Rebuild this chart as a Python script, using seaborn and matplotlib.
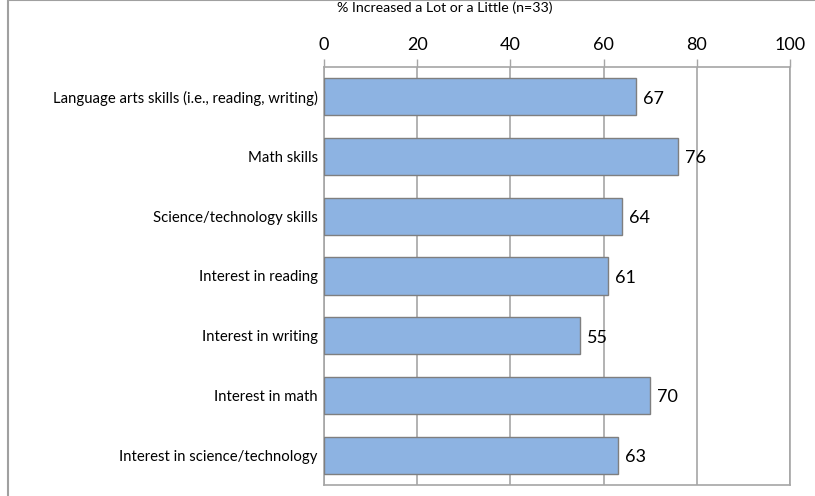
import matplotlib
matplotlib.use("Agg")
import matplotlib.pyplot as plt
from matplotlib.lines import Line2D
import seaborn as sns
import pandas as pd

categories = [
    "Language arts skills (i.e., reading, writing)",
    "Math skills",
    "Science/technology skills",
    "Interest in reading",
    "Interest in writing",
    "Interest in math",
    "Interest in science/technology",
]
values = [67, 76, 64, 61, 55, 70, 63]
x_ticks = [0, 20, 40, 60, 80, 100]
title = "% Increased a Lot or a Little (n=33)"

df = pd.DataFrame({"item": categories, "pct": values})

sns.set_theme(style="white")
plt.rcParams["font.family"] = ["Lato", "DejaVu Sans"]

grid_col = "#a6a6a6"
fig = plt.figure(figsize=(8.15, 4.96), dpi=100)
ax = fig.add_axes([0.3975, 0.0222, 0.9693 - 0.3975, 0.8649 - 0.0222])

sns.barplot(data=df, x="pct", y="item", orient="h", color="#8db3e2",
            saturation=1, width=0.62, edgecolor="#7f7f7f", linewidth=1.0,
            ax=ax, zorder=3)

ax.set_xlim(0, 100)
ax.set_xticks(x_ticks)
ax.xaxis.tick_top()
ax.tick_params(axis="x", top=True, bottom=False, length=6, width=1,
               color=grid_col, labelsize=13, pad=4, labelcolor="black")
ax.tick_params(axis="y", left=False, length=0, labelsize=10.7, pad=4.5,
               labelcolor="black")
ax.set_xlabel("")
ax.set_ylabel("")
ax.grid(axis="x", color=grid_col, linewidth=1.2, zorder=0)
ax.set_axisbelow(True)
for side in ["top", "bottom", "left", "right"]:
    ax.spines[side].set_visible(True)
    ax.spines[side].set_color(grid_col)
    ax.spines[side].set_linewidth(1.2)

for i, v in enumerate(values):
    ax.text(v + 1.5, i + 0.03, f"{v}", va="center", ha="left",
            fontsize=13, color="black")

fig.text(445 / 815, 1 - 8 / 496, title, ha="center", va="center",
         fontsize=10.2, color="black")

# outer chart frame (left and top edges)
fig.add_artist(Line2D([8 / 815, 8 / 815], [0, 0.999], transform=fig.transFigure,
                      color="#a0a0a0", linewidth=1.5))
fig.add_artist(Line2D([8 / 815, 1], [0.999, 0.999], transform=fig.transFigure,
                      color="#a0a0a0", linewidth=1.5))

fig.savefig("out.png", dpi=100)
